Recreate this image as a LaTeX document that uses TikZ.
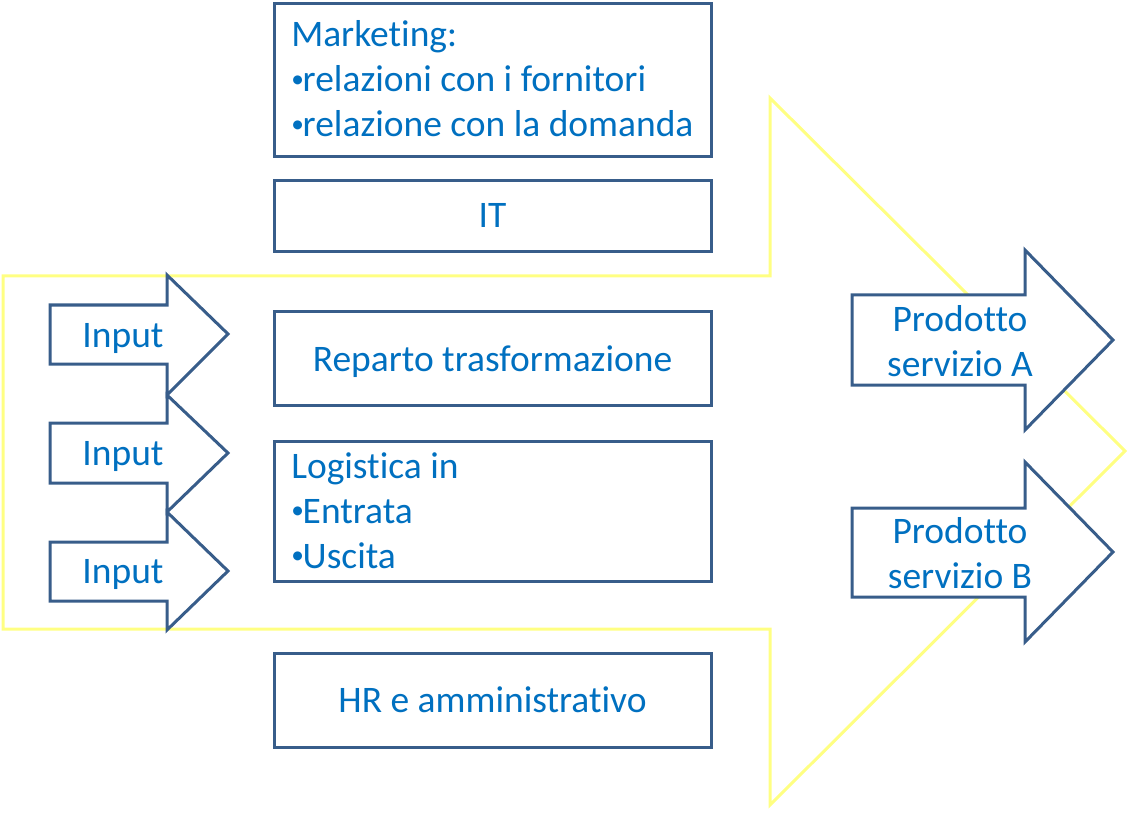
\documentclass[tikz,border=0pt]{standalone}
\usepackage{fontspec}
\setmainfont{Carlito}[Ligatures=NoCommon]
\definecolor{txt}{RGB}{0,112,192}
\definecolor{edge}{RGB}{56,93,138}
\definecolor{yel}{RGB}{255,255,130}
\newcommand\bul{\makebox[8.6pt][l]{\raisebox{3.2pt}{\fontsize{19}{19}\selectfont •}}}
\tikzset{
  box/.style={draw=edge, line width=2.25pt, fill=white, inner sep=0pt, minimum width=327.75pt},
  shapeline/.style={draw=edge, line width=2.25pt, fill=white, line join=miter},
  yline/.style={draw=yel, line width=2.25pt, line join=miter},
  lbl/.style={text=txt, inner sep=0pt},
  lline/.style={lbl, anchor=base west}
}
\begin{document}
\begin{tikzpicture}[x=0.75pt,y=-0.75pt, font=\fontsize{28.1}{33.75}\selectfont]
\useasboundingbox (0,0) rectangle (1129,813);
% big yellow arrow
\draw[yline] (3,276) -- (770,276) -- (770,98) -- (1125,451) -- (770,805) -- (770,629) -- (3,629) -- cycle;
% boxes
\node[box, minimum height=114.75pt] (mk) at (492.5,80.5) {};
\node[lline] (mk1) at (291,47) {Marketing:};
\node[lline] (mk2) at (291,92) {\bul relazioni con i fornitori};
\node[lline] (mk3) at (291,137) {\bul relazione con la domanda};
\node[box, minimum height=53.25pt] (it) at (492.5,216.5) {};
\node[lbl, anchor=base] (itt) at (492.5,228) {IT};
\node[box, minimum height=70.5pt] (rt) at (492.5,358) {};
\node[lbl, anchor=base] (rtt) at (492.5,371) {Reparto trasformazione};
\node[box, minimum height=105pt] (lg) at (492.5,511) {};
\node[lline] (lg1) at (291,478) {Logistica in};
\node[lline] (lg2) at (291,523) {\bul Entrata};
\node[lline] (lg3) at (291,568) {\bul Uscita};
\node[box, minimum height=70.5pt] (hr) at (492.5,700) {};
\node[lbl, anchor=base] (hrt) at (492.5,712) {HR e amministrativo};
% input arrows
\draw[shapeline] (50,305) -- (167,305) -- (167,275) -- (228,334) -- (167,395) -- (167,364) -- (50,364) -- cycle;
\draw[shapeline] (50,423) -- (167,423) -- (167,395) -- (228,453) -- (167,512) -- (167,483) -- (50,483) -- cycle;
\draw[shapeline] (50,542) -- (167,542) -- (167,512) -- (228,571) -- (167,630) -- (167,601) -- (50,601) -- cycle;
\node[lbl, anchor=base] (in1) at (123,347) {Input};
\node[lbl, anchor=base] (in2) at (123,465) {Input};
\node[lbl, anchor=base] (in3) at (123,583) {Input};
% product arrows
\draw[shapeline] (852,295) -- (1025,295) -- (1025,250) -- (1113,340) -- (1025,430) -- (1025,385) -- (852,385) -- cycle;
\draw[shapeline] (852,508) -- (1025,508) -- (1025,462) -- (1113,552) -- (1025,642) -- (1025,597) -- (852,597) -- cycle;
\node[lbl, anchor=base] (pa1) at (960,331) {Prodotto};
\node[lbl, anchor=base] (pa2) at (960,376) {servizio A};
\node[lbl, anchor=base] (pb1) at (960,543) {Prodotto};
\node[lbl, anchor=base] (pb2) at (960,588) {servizio B};
\end{tikzpicture}
\end{document}
